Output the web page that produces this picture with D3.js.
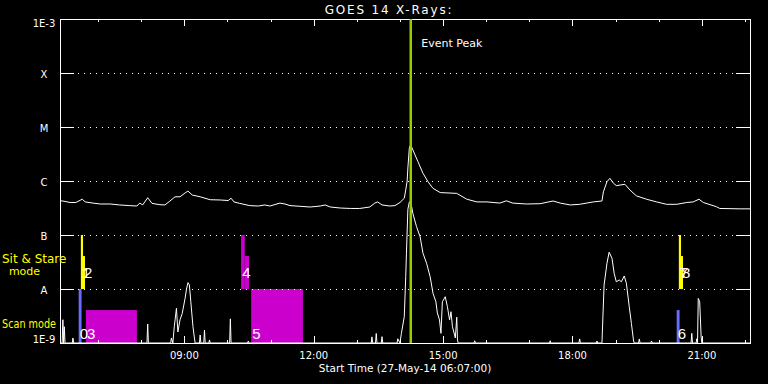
<!DOCTYPE html>
<html>
<head>
<meta charset="utf-8">
<script src="https://cdn.jsdelivr.net/npm/d3@7"></script>
<style>
  body { margin: 0; background: #000; }
  svg { display: block; font-family: "DejaVu Sans", sans-serif; }
</style>
</head>
<body>
<svg id="chart" width="768" height="384"></svg>
<script>
// GOES 14 long channel (1-8 A), time / flux in W/m^2
const longChannel = [
  ["06:07",4.3e-7],["06:11",4.26e-7],["06:21",4.0e-7],["06:29",4.0e-7],["06:38",4.6e-7],["06:42",4.1e-7],
  ["06:53",3.9e-7],["07:03",3.75e-7],["07:17",3.75e-7],["07:30",3.6e-7],["07:44",3.5e-7],["07:54",3.44e-7],
  ["07:58",3.9e-7],["08:02",3.6e-7],["08:09",4.9e-7],["08:15",3.85e-7],["08:26",3.64e-7],["08:33",3.6e-7],
  ["08:40",4.26e-7],["08:47",5.1e-7],["08:54",5.1e-7],["09:01",6.0e-7],["09:05",6.5e-7],["09:11",5.5e-7],
  ["09:22",5.1e-7],["09:36",4.5e-7],["09:50",4.45e-7],["10:01",4.35e-7],["10:05",4.8e-7],["10:09",4.1e-7],
  ["10:17",3.85e-7],["10:31",3.5e-7],["10:43",3.44e-7],["10:52",3.6e-7],["10:59",3.44e-7],["11:13",3.9e-7],
  ["11:20",3.75e-7],["11:27",3.5e-7],["11:41",3.4e-7],["11:55",3.3e-7],["12:09",3.44e-7],["12:16",3.6e-7],
  ["12:23",3.3e-7],["12:37",3.16e-7],["12:51",3.1e-7],["13:04",3.1e-7],["13:18",3.3e-7],["13:25",3.9e-7],
  ["13:29",4.1e-7],["13:35",3.6e-7],["13:46",3.44e-7],["13:53",3.5e-7],["14:00",4.0e-7],["14:06",4.8e-7],
  ["14:08",6.8e-7],["14:10",1.0e-6],["14:11",1.74e-6],["14:13",4.08e-6],["14:14",4.45e-6],["14:15",4.64e-6],
  ["14:18",3.75e-6],["14:25",2.28e-6],["14:32",1.39e-6],["14:39",9.7e-7],["14:46",7.3e-7],["14:56",6.1e-7],
  ["15:19",5.9e-7],["15:33",4.6e-7],["15:47",4.1e-7],["16:01",4.1e-7],["16:19",3.9e-7],["16:28",4.3e-7],
  ["16:37",3.9e-7],["16:56",3.75e-7],["17:15",3.8e-7],["17:33",4.26e-7],["17:43",3.9e-7],["17:57",3.6e-7],
  ["18:10",3.7e-7],["18:29",4.1e-7],["18:41",4.26e-7],["18:43",6.3e-7],["18:48",9.7e-7],["18:52",1.12e-6],
  ["18:57",9.1e-7],["19:01",8.2e-7],["19:13",8.7e-7],["19:20",6.8e-7],["19:29",5.3e-7],["19:43",4.6e-7],
  ["19:57",4.1e-7],["20:11",3.7e-7],["20:25",3.7e-7],["20:39",4.0e-7],["20:48",4.1e-7],["20:56",4.6e-7],
  ["21:02",4.0e-7],["21:20",3.35e-7],["21:25",3.1e-7],["21:53",3.05e-7],["22:07",3.05e-7]
];

// GOES 14 short channel (0.5-4 A), mostly below 1E-9
const shortChannel = [
  ["06:07",5e-10],["06:10",5e-10],["06:11",2.7e-9],["06:12",5e-10],["06:13",2.0e-9],["06:14",5e-10],
  ["06:24",5e-10],["06:25",1.24e-9],["06:26",5e-10],
  ["08:08",5e-10],["08:09",2.25e-9],["08:10",5e-10],
  ["08:41",5e-10],["08:42",1.24e-9],["08:44",6e-10],["08:46",2.0e-9],["08:49",4.4e-9],["08:51",1.6e-9],
  ["08:54",2.7e-9],["08:57",3.5e-9],["09:01",6.7e-9],["09:03",1.0e-8],["09:05",1.31e-8],["09:07",1.19e-8],
  ["09:09",5.8e-9],["09:12",2.0e-9],["09:14",1.24e-9],["09:15",5e-10],
  ["09:21",5e-10],["09:22",1.41e-9],["09:23",5e-10],
  ["09:27",5e-10],["09:28",1.74e-9],["09:29",5e-10],
  ["09:34",5e-10],["09:35",1.14e-9],["09:36",5e-10],
  ["10:03",5e-10],["10:04",2.8e-9],["10:05",5e-10],
  ["10:28",5e-10],["10:29",1.09e-9],["10:30",5e-10],
  ["13:20",5e-10],["13:21",1.3e-9],["13:22",5e-10],["13:26",5e-10],["13:27",1.5e-9],["13:28",5e-10],
  ["13:34",5e-10],["13:35",1.31e-9],["13:36",5e-10],
  ["13:56",5e-10],["13:57",1.2e-9],["14:00",8e-10],["14:02",1.51e-9],["14:06",3.07e-9],["14:08",1.69e-8],
  ["14:09",4.6e-8],["14:11",3.0e-7],["14:13",4.1e-7],["14:15",4.14e-7],["14:18",2.5e-7],["14:23",1.43e-7],
  ["14:28",9.3e-8],["14:32",4.6e-8],["14:37",3.0e-8],["14:42",1.69e-8],["14:46",8.3e-9],["14:50",5.8e-9],
  ["14:52",3.6e-9],["14:55",2.67e-9],["14:57",1.51e-9],["14:59",5.8e-9],["15:03",7.2e-9],["15:06",4.7e-9],
  ["15:09",2.67e-9],["15:11",3.8e-9],["15:13",2.0e-9],["15:17",1.24e-9],["15:19",3.0e-9],["15:20",1.14e-9],
  ["15:21",5e-10],
  ["15:43",5e-10],["15:44",1.1e-9],["15:45",5e-10],
  ["17:28",5e-10],["17:29",1.1e-9],["17:30",5e-10],
  ["18:09",5e-10],["18:10",1.19e-9],["18:11",5e-10],
  ["18:33",5e-10],["18:34",1.09e-9],["18:35",5e-10],
  ["18:41",5e-10],["18:42",2.25e-9],["18:44",1.19e-8],["18:48",3.0e-8],["18:51",4.8e-8],["18:55",3.7e-8],
  ["18:58",1.95e-8],["19:01",1.36e-8],["19:05",1.47e-8],["19:08",1.36e-8],["19:12",1.74e-8],["19:15",1.28e-8],
  ["19:19",4.7e-9],["19:22",2.3e-9],["19:25",1.09e-9],["19:26",5e-10],
  ["19:32",5e-10],["19:33",1.19e-9],["19:34",5e-10],
  ["19:49",5e-10],["19:50",1.09e-9],["19:51",5e-10],
  ["20:45",5e-10],["20:46",1.51e-9],["20:47",5e-10],["20:52",5e-10],["20:53",1.2e-9],["20:54",8e-10],
  ["20:55",6.7e-9],["20:57",5.8e-9],["20:59",1.3e-9],["21:00",5e-10],
  ["22:07",5e-10]
];

// Observations (label, start, end, mode, kind, relative height)
const obsLabels = ["0", "1", "2", "3", "4", "", "5", "6", "7", "8"];
const obsStart  = ["06:33","06:36","06:39","06:43","10:19","10:24","10:33","20:25","20:28","20:31"];
const obsEnd    = ["06:37","06:39","06:41","07:54","10:24","10:30","11:45","20:29","20:31","20:33"];
const obsMode   = ["scan","sit","sit","scan","sit","sit","scan","scan","sit","sit"];
const obsKind   = ["small","stare","stare","large","large","large","large","small","stare","stare"];
const obsLevel  = [1, 1, 0.61, 0.61, 1, 0.61, 1, 0.61, 1, 0.61];

// Axis labels
const decadeValues = [1e-9, 1e-8, 1e-7, 1e-6, 1e-5, 1e-4, 1e-3];
const decadeLabels = ["1E-9", "A", "B", "C", "M", "X", "1E-3"];
const startTime = "06:07";
const endTime = "22:07";
const eventPeak = "14:15";

const parse = d3.timeParse("%H:%M");
const svg = d3.select("#chart");

// Plot area
const plotLeft = 60, plotRight = 750, plotTop = 19, plotBottom = 343;

const x = d3.scaleTime()
  .domain([parse(startTime), parse(endTime)])
  .range([plotLeft, plotRight]);

const y = d3.scaleLog()
  .domain([1e-9, 1e-3])
  .range([plotBottom, plotTop])
  .clamp(true);

const kindColor = d3.scaleOrdinal()
  .domain(["small", "stare", "large"])
  .range(["#6a6cff", "#ffff00", "#cc00cc"]);

// Bands for the two observing modes
const band = { scan: [1e-9, 1e-8], sit: [1e-8, 1e-7] };

const obs = obsLabels.map((label, i) => ({
  label: label,
  t0: parse(obsStart[i]),
  t1: parse(obsEnd[i]),
  mode: obsMode[i],
  kind: obsKind[i],
  level: obsLevel[i]
}));

// Observation bars
svg.selectAll(".obs")
  .data(obs)
  .enter()
  .append("rect")
  .attr("class", "obs")
  .attr("x", d => x(d.t0))
  .attr("width", d => Math.max(2, x(d.t1) - x(d.t0)))
  .attr("y", d => {
    const b0 = y(band[d.mode][0]), b1 = y(band[d.mode][1]);
    return b0 - d.level * (b0 - b1);
  })
  .attr("height", d => {
    const b0 = y(band[d.mode][0]), b1 = y(band[d.mode][1]);
    return d.level * (b0 - b1);
  })
  .style("fill", d => kindColor(d.kind));

svg.selectAll(".obs-label")
  .data(obs.filter(d => d.label !== ""))
  .enter()
  .append("text")
  .attr("class", "obs-label")
  .attr("x", d => x(d.t0) + 1)
  .attr("y", d => y(band[d.mode][0]) - (d.mode === "scan" ? 4 : 11))
  .text(d => d.label)
  .style("font-family", "'Liberation Sans', sans-serif")
  .style("font-size", "15px")
  .style("fill", "#fff");

// Dotted grid lines at the flare classes
svg.selectAll(".grid")
  .data(decadeValues.slice(1, -1))
  .enter()
  .append("line")
  .attr("x1", plotLeft + 18).attr("x2", plotRight - 14)
  .attr("y1", d => Math.round(y(d)) + 0.5).attr("y2", d => Math.round(y(d)) + 0.5)
  .style("stroke", "#fff")
  .style("stroke-dasharray", "1,5");

// Curves
const line = d3.line()
  .x(d => x(parse(d[0])))
  .y(d => y(d[1]));

svg.append("path")
  .datum(shortChannel)
  .attr("d", line)
  .style("fill", "none")
  .style("stroke", "#fff")
  .style("stroke-width", 1);

svg.append("path")
  .datum(longChannel)
  .attr("d", line)
  .style("fill", "none")
  .style("stroke", "#fff")
  .style("stroke-width", 1);

// Frame
svg.append("rect")
  .attr("x", plotLeft + 0.5).attr("y", plotTop + 0.5)
  .attr("width", plotRight - plotLeft).attr("height", plotBottom - plotTop)
  .style("fill", "none")
  .style("stroke", "#fff");

// Y ticks, both sides
decadeValues.forEach(v => {
  const yy = Math.round(y(v)) + 0.5;
  svg.append("line").attr("x1", plotLeft).attr("x2", plotLeft + 14).attr("y1", yy).attr("y2", yy)
    .style("stroke", "#fff");
  svg.append("line").attr("x1", plotRight - 14).attr("x2", plotRight).attr("y1", yy).attr("y2", yy)
    .style("stroke", "#fff");
});

svg.selectAll(".ylab")
  .data(decadeValues)
  .enter()
  .append("text")
  .attr("class", "ylab")
  .attr("x", 44)
  .attr("y", d => Math.min(339.5, Math.max(23, y(d) + 1)) + 3.6)
  .attr("text-anchor", "middle")
  .text((d, i) => decadeLabels[i])
  .style("font-size", "10px")
  .style("fill", "#fff");

// X ticks: hourly minor, 3-hourly major with labels
const hours = d3.timeHour.range(parse(startTime), parse(endTime));
hours.forEach(h => {
  const xx = Math.round(x(h)) + 0.5;
  const len = h.getHours() % 3 === 0 ? 7 : 3;
  svg.append("line").attr("x1", xx).attr("x2", xx).attr("y1", plotBottom).attr("y2", plotBottom - len)
    .style("stroke", "#fff");
  svg.append("line").attr("x1", xx).attr("x2", xx).attr("y1", plotTop).attr("y2", plotTop + len)
    .style("stroke", "#fff");
});

svg.selectAll(".xlab")
  .data(hours.filter(h => h.getHours() % 3 === 0))
  .enter()
  .append("text")
  .attr("x", d => x(d))
  .attr("y", 358.5)
  .attr("text-anchor", "middle")
  .text(d3.timeFormat("%H:%M"))
  .style("font-size", "10px")
  .style("fill", "#fff");

// Event peak marker
const ex = x(parse(eventPeak));
svg.append("line")
  .attr("x1", ex).attr("x2", ex).attr("y1", plotTop).attr("y2", plotBottom)
  .style("stroke", "#99cc00")
  .style("stroke-width", 2.5);

svg.append("text")
  .attr("x", ex + 10.5).attr("y", 47)
  .text("Event Peak")
  .style("font-size", "11px")
  .style("fill", "#fff");

// Titles
svg.append("text")
  .attr("x", 389).attr("y", 14)
  .attr("text-anchor", "middle")
  .text("GOES 14 X-Rays:")
  .style("font-size", "12px")
  .style("letter-spacing", "1.8px")
  .style("fill", "#fff");

svg.append("text")
  .attr("x", 405).attr("y", 371.5)
  .attr("text-anchor", "middle")
  .text("Start Time (27-May-14 06:07:00)")
  .style("font-size", "10.5px")
  .style("fill", "#fff");

// Mode labels on the left
svg.append("text").attr("x", 2).attr("y", 263).text("Sit & Stare")
  .style("font-size", "12px").style("fill", "#ffff00");
svg.append("text").attr("x", 24.5).attr("y", 275).attr("text-anchor", "middle").text("mode")
  .style("font-size", "11px").style("fill", "#ffff00");
svg.append("text").attr("x", 2).attr("y", 328).text("Scan mode")
  .attr("textLength", 54).attr("lengthAdjust", "spacingAndGlyphs")
  .style("font-size", "11.5px").style("fill", "#ffff00");
</script>
</body>
</html>
